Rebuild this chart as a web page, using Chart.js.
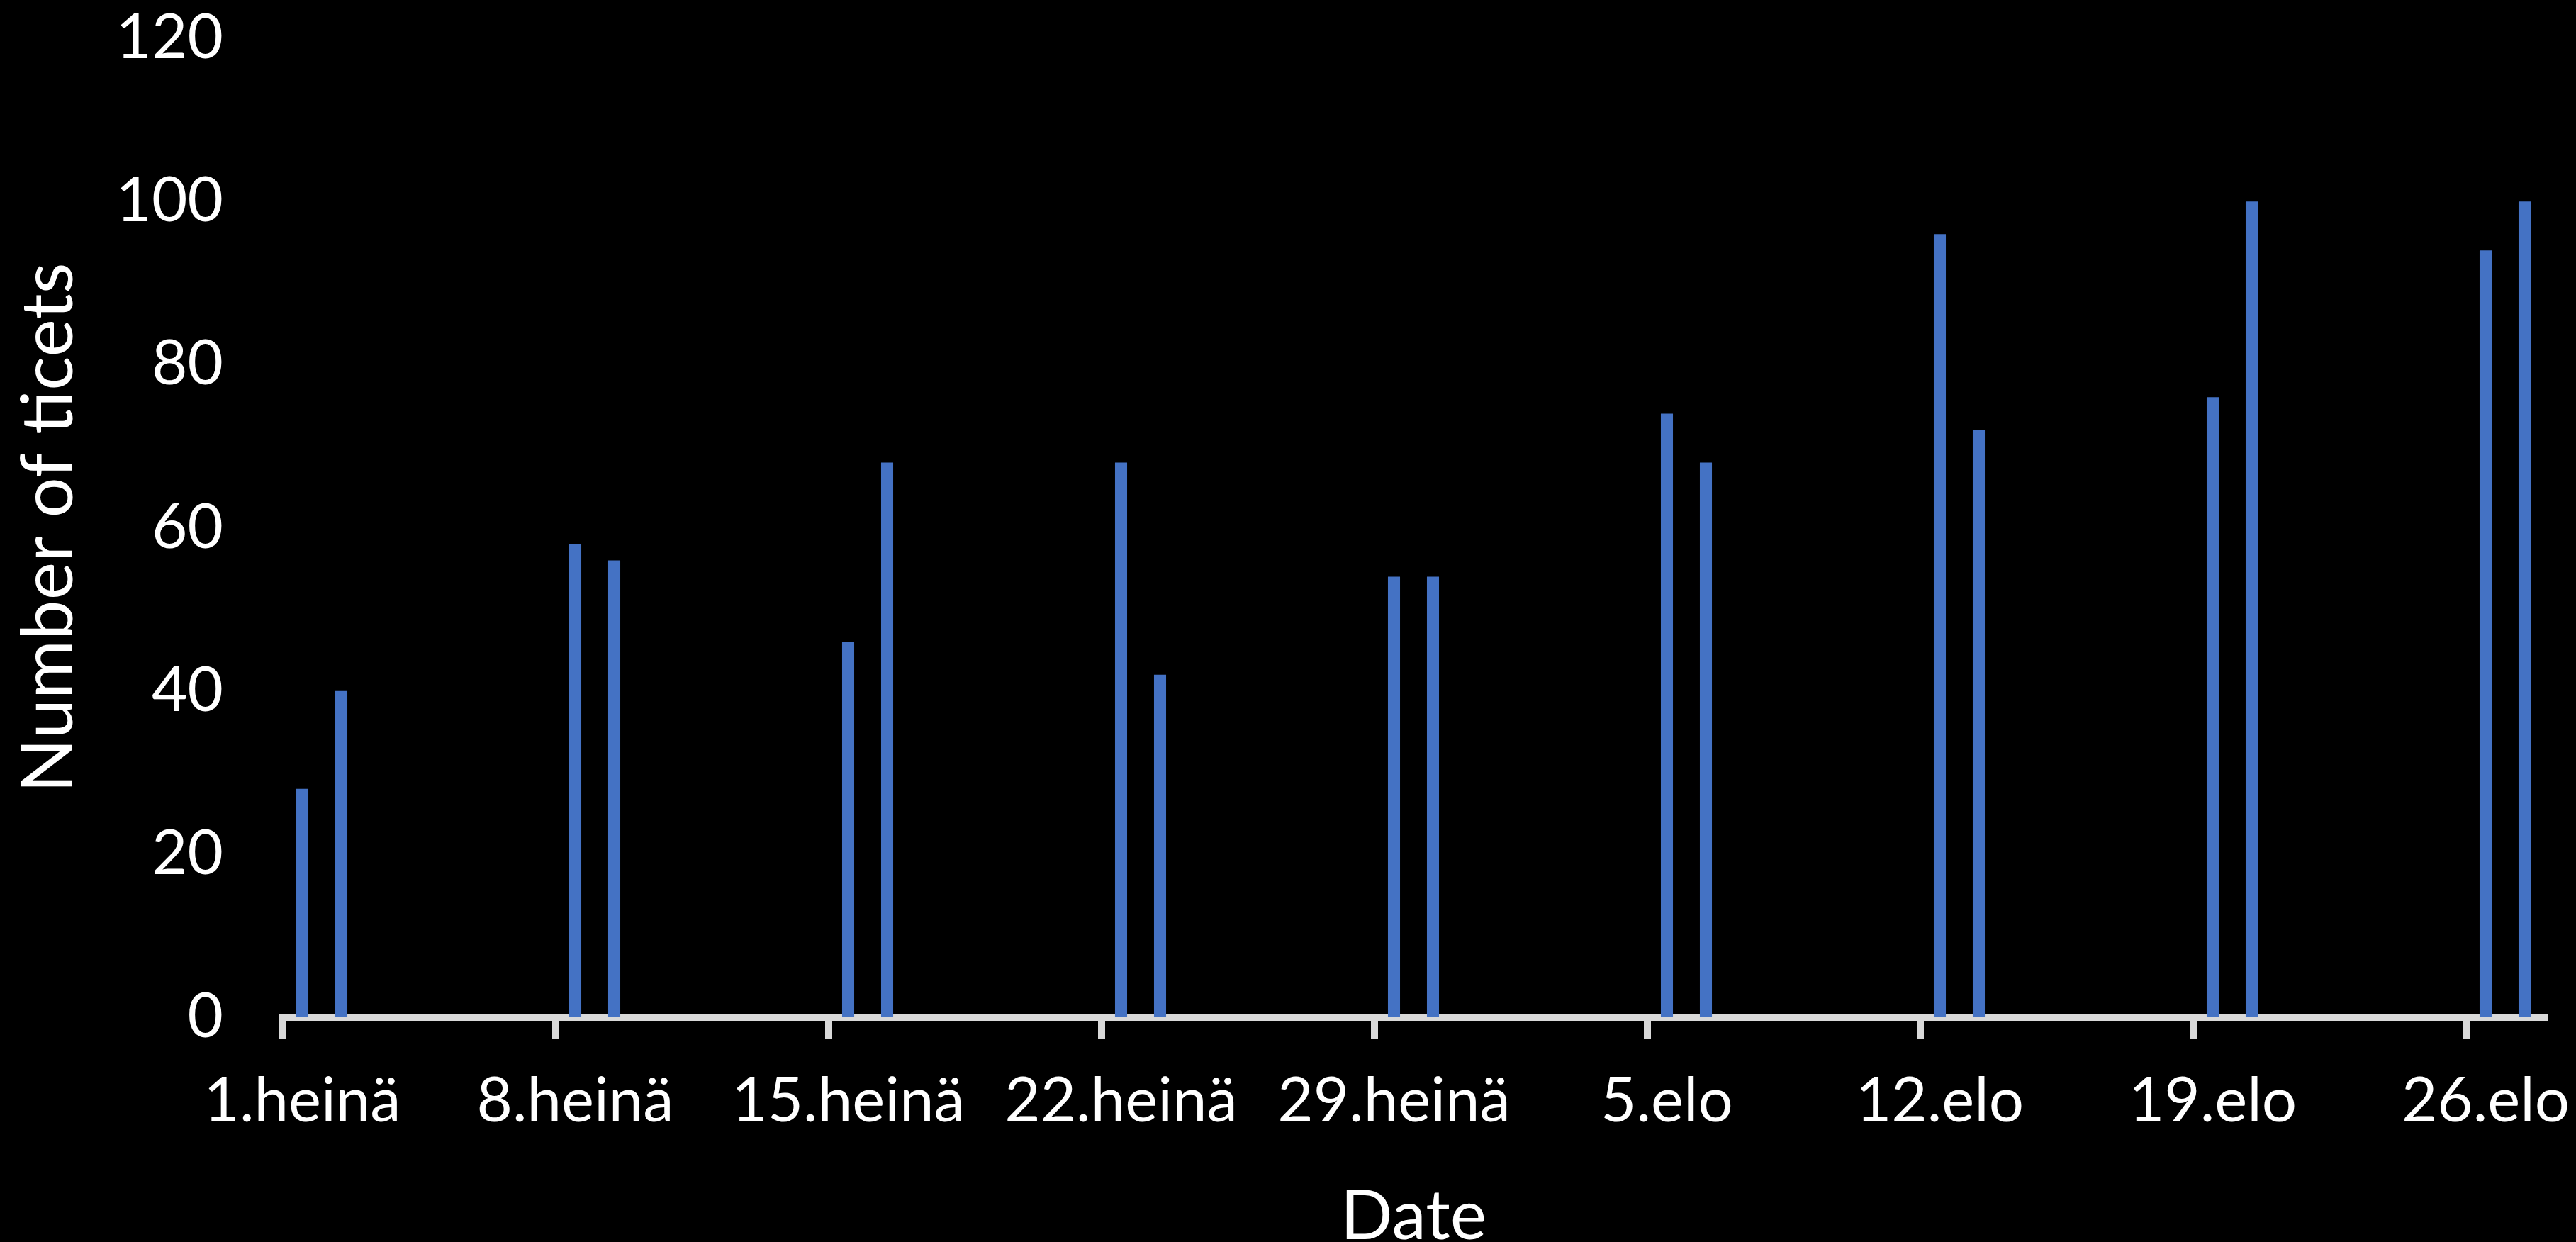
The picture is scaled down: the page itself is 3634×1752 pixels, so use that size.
<!DOCTYPE html>
<html>
<head>
<meta charset="utf-8">
<title>Number of ticets</title>
<script src="https://cdn.jsdelivr.net/npm/chart.js@4/dist/chart.umd.min.js"></script>
<style>
  html, body { margin: 0; padding: 0; background: #000000; }
  #wrap { width: 3634px; height: 1752px; position: relative; }
</style>
</head>
<body>
<div id="wrap"><canvas id="chart"></canvas></div>
<script>
// Days on the date axis, month by month (name, number of days shown)
const axisMonths = [['heinä', 31], ['elo', 27]];

// Days that had tickets and how many
const ticketDates = ['1.heinä', '2.heinä', '8.heinä', '9.heinä', '15.heinä', '16.heinä',
                     '22.heinä', '23.heinä', '29.heinä', '30.heinä', '5.elo', '6.elo',
                     '12.elo', '13.elo', '19.elo', '20.elo', '26.elo', '27.elo'];
const ticketCounts = [28, 40, 58, 56, 46, 68, 68, 42, 54, 54, 74, 68, 96, 72, 76, 100, 94, 100];

// Weekly labels on the date axis
const tickLabels = ['1.heinä', '8.heinä', '15.heinä', '22.heinä', '29.heinä',
                    '5.elo', '12.elo', '19.elo', '26.elo'];

// Value axis ticks
const valueTicks = [0, 20, 40, 60, 80, 100, 120];

// One category per calendar day
const days = [];
axisMonths.forEach(([name, count]) => {
  for (let d = 1; d <= count; d++) days.push(d + '.' + name);
});
const dayValues = days.map(label => {
  const i = ticketDates.indexOf(label);
  return i >= 0 ? ticketCounts[i] : null;
});

const WHITE = '#FFFFFF';
const AXIS = '#D9D9D9';
const FONT = 'Lato, "Open Sans", sans-serif';

new Chart(document.getElementById('chart'), {
  type: 'bar',
  data: {
    labels: days,
    datasets: [{
      data: dayValues,
      backgroundColor: '#4472C4',
      borderWidth: 0,
      categoryPercentage: 1,
      barPercentage: 0.31
    }]
  },
  options: {
    responsive: true,
    maintainAspectRatio: false,
    animation: false,
    layout: { padding: { top: 54, right: 45, bottom: 0, left: 0 } },
    plugins: { legend: { display: false }, tooltip: { enabled: false } },
    scales: {
      x: {
        z: 1,
        offset: true,
        grid: {
          display: true,
          offset: true,
          drawOnChartArea: false,
          drawTicks: true,
          tickLength: 31,
          lineWidth: 10,
          tickWidth: 10,
          tickColor: ctx => (ctx.tick && tickLabels.includes(ctx.tick.label)) ? AXIS : 'rgba(0,0,0,0)'
        },
        border: { display: true, color: AXIS, width: 10 },
        ticks: {
          autoSkip: false,
          maxRotation: 0,
          minRotation: 0,
          padding: 36,
          color: WHITE,
          font: { family: FONT, size: 87 },
          callback: function (value) {
            const label = this.getLabelForValue(value);
            return tickLabels.includes(label) ? label : '';
          }
        },
        title: {
          display: true,
          text: 'Date',
          color: WHITE,
          font: { family: FONT, size: 97 },
          padding: { top: 0, bottom: -23 }
        },
        afterFit: scale => { scale.height = 317; }
      },
      y: {
        min: valueTicks[0],
        max: valueTicks[valueTicks.length - 1],
        afterBuildTicks: scale => { scale.ticks = valueTicks.map(v => ({ value: v })); },
        grid: { display: false },
        border: { display: false },
        ticks: {
          padding: 76,
          color: WHITE,
          font: { family: FONT, size: 87 }
        },
        title: {
          display: true,
          text: 'Number of ticets',
          color: WHITE,
          font: { family: FONT, size: 101 },
          padding: { top: 9, bottom: 0 }
        },
        afterFit: scale => {
          scale.width = 399;
          // the label gap is horizontal only; keep it out of the vertical layout
          scale.paddingTop = 0;
          scale.paddingBottom = 0;
        }
      }
    }
  }
});
</script>
</body>
</html>
